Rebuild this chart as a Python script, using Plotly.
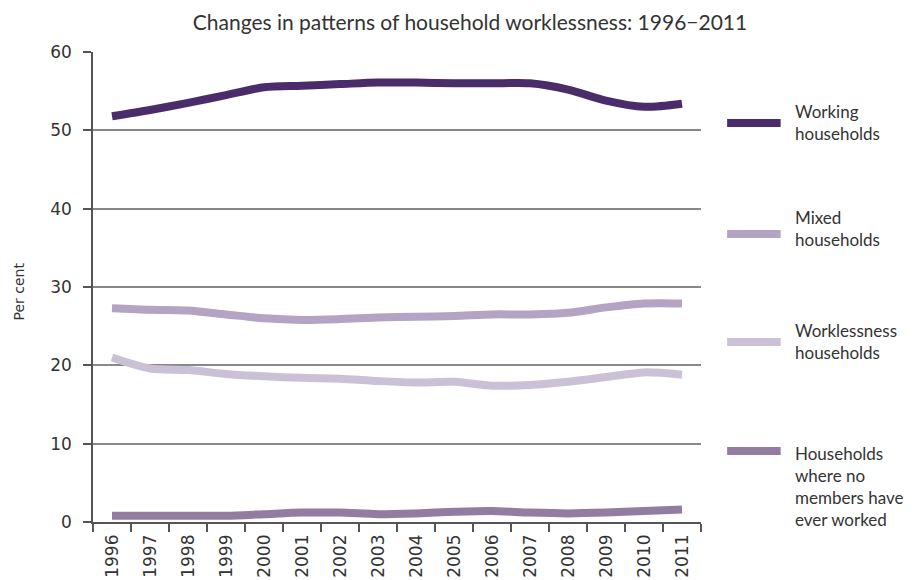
import plotly.graph_objects as go

years = [str(y) for y in range(1996, 2012)]
working = [51.8, 52.6, 53.5, 54.5, 55.5, 55.7, 55.9, 56.1, 56.1, 56.0, 56.0, 56.0, 55.2, 53.8, 53.0, 53.4]
mixed = [27.3, 27.1, 27.0, 26.5, 26.0, 25.8, 25.9, 26.1, 26.2, 26.3, 26.5, 26.5, 26.7, 27.4, 27.9, 27.9]
workless = [21.0, 19.6, 19.4, 18.9, 18.6, 18.4, 18.3, 18.0, 17.8, 17.9, 17.4, 17.5, 17.9, 18.5, 19.1, 18.8]
never = [0.8, 0.8, 0.8, 0.8, 1.0, 1.2, 1.2, 1.0, 1.1, 1.3, 1.4, 1.2, 1.1, 1.2, 1.4, 1.6]

names = ["Working<br>households", "Mixed<br>households", "Worklessness<br>households",
         "Households<br>where no<br>members have<br>ever worked"]
colors = ["#4B2C6B", "#B2A4C2", "#CBC1D6", "#927CA0"]
series = [working, mixed, workless, never]

fig = go.Figure()
for vals, col, nm in zip(series, colors, names):
    fig.add_trace(go.Scatter(x=years, y=vals, mode="lines", name=nm,
                             line=dict(color=col, width=8, shape="spline", smoothing=0.8),
                             showlegend=False, hoverinfo="skip"))

# custom legend
leg_y = [0.849, 0.613, 0.383, 0.151]
txt_y = [0.851, 0.625, 0.383, 0.076]
for col, nm, ly, ty in zip(colors, names, leg_y, txt_y):
    fig.add_shape(type="line", xref="paper", yref="paper", x0=1.043, x1=1.131, y0=ly, y1=ly,
                  line=dict(color=col, width=8))
    fig.add_annotation(xref="paper", yref="paper", x=1.152, y=ty, text=nm, showarrow=False,
                       xanchor="left", yanchor="middle", align="left",
                       font=dict(family="Lato", size=17, color="#333333"))

fig.add_annotation(xref="paper", yref="paper", x=-0.122, y=0.49, text="Per cent", textangle=-90,
                   showarrow=False, xanchor="center", yanchor="middle",
                   font=dict(family="DejaVu Sans", size=14, color="#333333"))

fig.update_layout(
    width=905, height=572,
    margin=dict(l=85, r=212, t=44, b=58),
    paper_bgcolor="white", plot_bgcolor="white",
    title=dict(text="Changes in patterns of household worklessness: 1996\u22122011",
               x=0.5105, xanchor="center", y=0.975, yanchor="middle",
               font=dict(family="Lato", size=21, color="#333333")),
)
fig.update_xaxes(type="category", range=[-0.5, 15.5], tickson="boundaries", ticks="outside",
                 ticklen=8, tickcolor="#555555", tickwidth=1.5, showline=True,
                 linecolor="#555555", linewidth=1.5, showgrid=False, tickangle=-90,
                 automargin=False, ticklabelstandoff=4,
                 tickfont=dict(family="DejaVu Sans", size=17, color="#333333"))
fig.update_yaxes(range=[0, 60], dtick=10, ticks="outside", ticklen=8, tickcolor="#555555",
                 tickwidth=1.5, showline=True, linecolor="#555555", linewidth=1.5,
                 showgrid=True, gridcolor="#888888", gridwidth=1.5, zeroline=False,
                 automargin=False, ticklabelstandoff=8,
                 tickfont=dict(family="DejaVu Sans", size=17, color="#333333"))

fig.write_html("out.html")
